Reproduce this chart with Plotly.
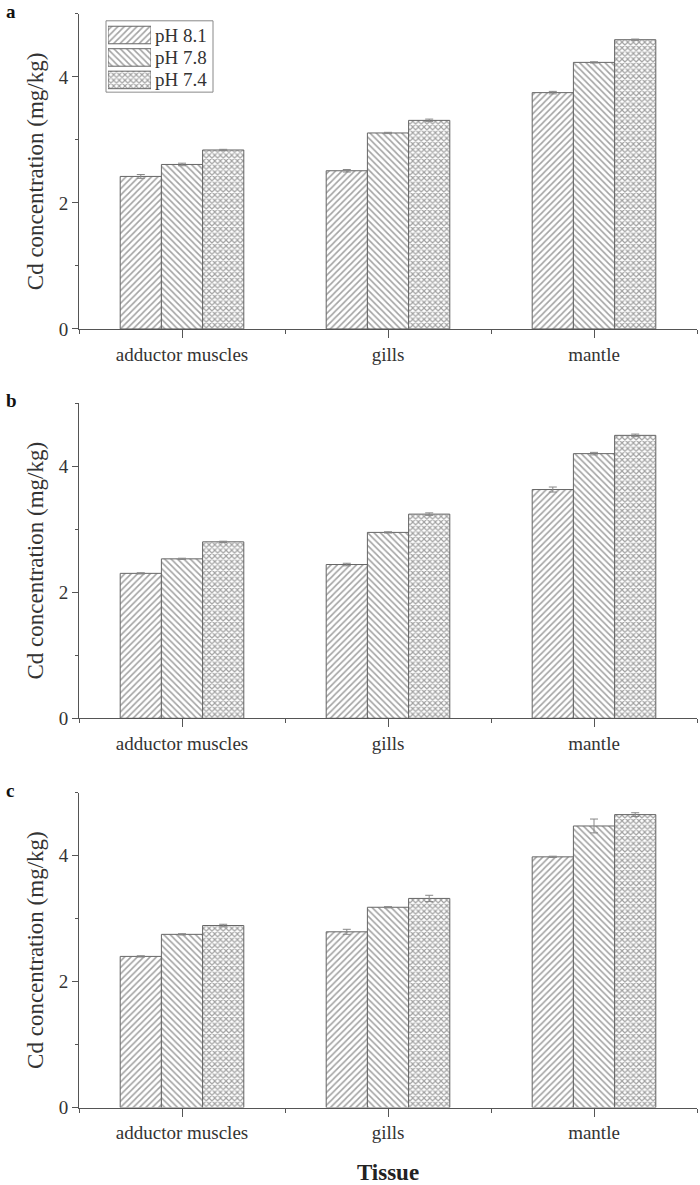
import plotly.graph_objects as go

# ---------------- data ----------------
tissues = ["adductor muscles", "gills", "mantle"]
series_names = ["pH 8.1", "pH 7.8", "pH 7.4"]
panel_labels = ["a", "b", "c"]

a_ph81 = [2.42, 2.51, 3.75]
a_ph78 = [2.61, 3.11, 4.23]
a_ph74 = [2.84, 3.31, 4.59]
a_err81 = [0.03, 0.02, 0.02]
a_err78 = [0.02, 0.01, 0.01]
a_err74 = [0.01, 0.02, 0.01]

b_ph81 = [2.30, 2.44, 3.63]
b_ph78 = [2.53, 2.95, 4.20]
b_ph74 = [2.80, 3.24, 4.49]
b_err81 = [0.01, 0.02, 0.04]
b_err78 = [0.01, 0.01, 0.02]
b_err74 = [0.01, 0.02, 0.02]

c_ph81 = [2.40, 2.79, 3.98]
c_ph78 = [2.75, 3.18, 4.47]
c_ph74 = [2.89, 3.32, 4.65]
c_err81 = [0.01, 0.04, 0.01]
c_err78 = [0.01, 0.01, 0.11]
c_err74 = [0.02, 0.05, 0.03]

y_ticks = [0, 2, 4]

panels = [
    ([a_ph81, a_ph78, a_ph74], [a_err81, a_err78, a_err74]),
    ([b_ph81, b_ph78, b_ph74], [b_err81, b_err78, b_err74]),
    ([c_ph81, c_ph78, c_ph74], [c_err81, c_err78, c_err74]),
]

# ---------------- style ----------------
W, H = 700, 1185
FONT = "Liberation Serif, Times New Roman, serif"
TXT = "#333333"
AXC = "#555555"
PAT_FG = "#444444"
shapes_pat = ["/", "\\", "x"]
solid_pat = [0.34, 0.34, 0.5]
size_pat = [4.5, 4.5, 4.0]

# pixel geometry (from top) of each panel: (top, zero-line)
panel_px = [(14, 332), (407, 725), (800, 1118)]
x_px = (79, 697)

fig = go.Figure()
pos = list(range(len(tissues)))

for p, (vals, errs) in enumerate(panels):
    ax = "" if p == 0 else str(p + 1)
    for s, name in enumerate(series_names):
        fig.add_trace(go.Bar(
            x=pos, y=vals[s], name=name,
            legendgroup=name, showlegend=False,
            xaxis="x" + ax, yaxis="y" + ax,
            marker=dict(
                color="white",
                line=dict(color="#666666", width=1),
                pattern=dict(shape=shapes_pat[s], fgcolor=PAT_FG,
                             bgcolor="white", size=size_pat[s],
                             solidity=solid_pat[s]),
            ),
            error_y=dict(type="data", array=errs[s], color="#888888",
                         thickness=1, width=4),
        ))

# ---- legend (drawn as a small key panel with large swatches) ----
leg_box = (106, 21, 213, 93)      # px: left, top, right, bottom
leg_rows = (24, 92)               # px span of the three rows
fig.add_trace(go.Bar(
    y=series_names, x=[1] * len(series_names), orientation="h",
    width=[0.78] * len(series_names),
    xaxis="x4", yaxis="y4", showlegend=False, hoverinfo="skip",
    marker=dict(
        color="white",
        line=dict(color="#666666", width=1),
        pattern=dict(shape=shapes_pat, fgcolor=PAT_FG, bgcolor="white",
                     size=size_pat, solidity=solid_pat),
    ),
))

layout = dict(
    width=W, height=H,
    margin=dict(l=0, r=0, t=0, b=0),
    paper_bgcolor="white", plot_bgcolor="white",
    barmode="group", bargap=0.4, bargroupgap=0.0,
    font=dict(family=FONT, size=19, color=TXT),
    showlegend=False,
)

annotations = []
for p in range(3):
    key = "" if p == 0 else str(p + 1)
    top, zero = panel_px[p]
    layout["xaxis" + key] = dict(
        domain=[x_px[0] / W, x_px[1] / W],
        range=[-0.5, len(tissues) - 0.5],
        tickvals=pos, ticktext=tissues,
        showline=True, linecolor=AXC, linewidth=1,
        ticks="outside", ticklen=8, tickcolor=AXC,
        minor=dict(ticks="outside", ticklen=4, tick0=0.5, dtick=1, tickcolor=AXC),
        showgrid=False, zeroline=False, fixedrange=True,
        anchor="y" + key,
        tickfont=dict(family=FONT, size=19, color=TXT),
    )
    if p == 2:
        layout["xaxis" + key]["title"] = dict(
            text="<b>Tissue</b>", standoff=23,
            font=dict(family=FONT, size=23, color="#222222"))
    layout["yaxis" + key] = dict(
        domain=[1 - zero / H, 1 - top / H],
        range=[0, 5],
        tickvals=y_ticks,
        showline=True, linecolor=AXC, linewidth=1,
        ticks="outside", ticklen=6, tickcolor=AXC,
        minor=dict(ticks="outside", ticklen=3, tick0=0, dtick=1, tickcolor=AXC),
        showgrid=False, zeroline=False, fixedrange=True,
        anchor="x" + key,
        tickfont=dict(family=FONT, size=19, color=TXT),
        title=dict(text="Cd concentration (mg/kg)", standoff=8,
                   font=dict(family=FONT, size=23, color=TXT)),
    )
    annotations.append(dict(
        text="<b>" + panel_labels[p] + "</b>", xref="paper", yref="paper",
        x=5 / W, y=1 - max(top - 14, 0) / H, xanchor="left", yanchor="top",
        showarrow=False, font=dict(family=FONT, size=19, color="#111111"),
        borderpad=0,
    ))

# key panel axes
layout["xaxis4"] = dict(domain=[108 / W, 151 / W], range=[0, 1], visible=False,
                        fixedrange=True, anchor="y4")
layout["yaxis4"] = dict(domain=[1 - leg_rows[1] / H, 1 - leg_rows[0] / H],
                        range=[len(series_names) - 0.5, -0.5],
                        type="category", visible=False, fixedrange=True,
                        anchor="x4")

row_h = (leg_rows[1] - leg_rows[0]) / len(series_names)
for s, name in enumerate(series_names):
    yc = leg_rows[0] + row_h * (s + 0.5)
    annotations.append(dict(
        text=name, xref="paper", yref="paper",
        x=154 / W, y=1 - yc / H, xanchor="left", yanchor="middle",
        showarrow=False, font=dict(family=FONT, size=19, color=TXT),
        borderpad=0,
    ))

layout["annotations"] = annotations
layout["shapes"] = [dict(
    type="rect", xref="paper", yref="paper",
    x0=leg_box[0] / W, x1=leg_box[2] / W,
    y0=1 - leg_box[3] / H, y1=1 - leg_box[1] / H,
    line=dict(color="#888888", width=1), fillcolor="rgba(0,0,0,0)", layer="below",
)]
fig.update_layout(**layout)
fig.write_html(
    "out.html",
    config={"displayModeBar": False, "staticPlot": True},
    post_script="document.body.style.margin='0px';document.body.style.overflow='hidden';",
)
